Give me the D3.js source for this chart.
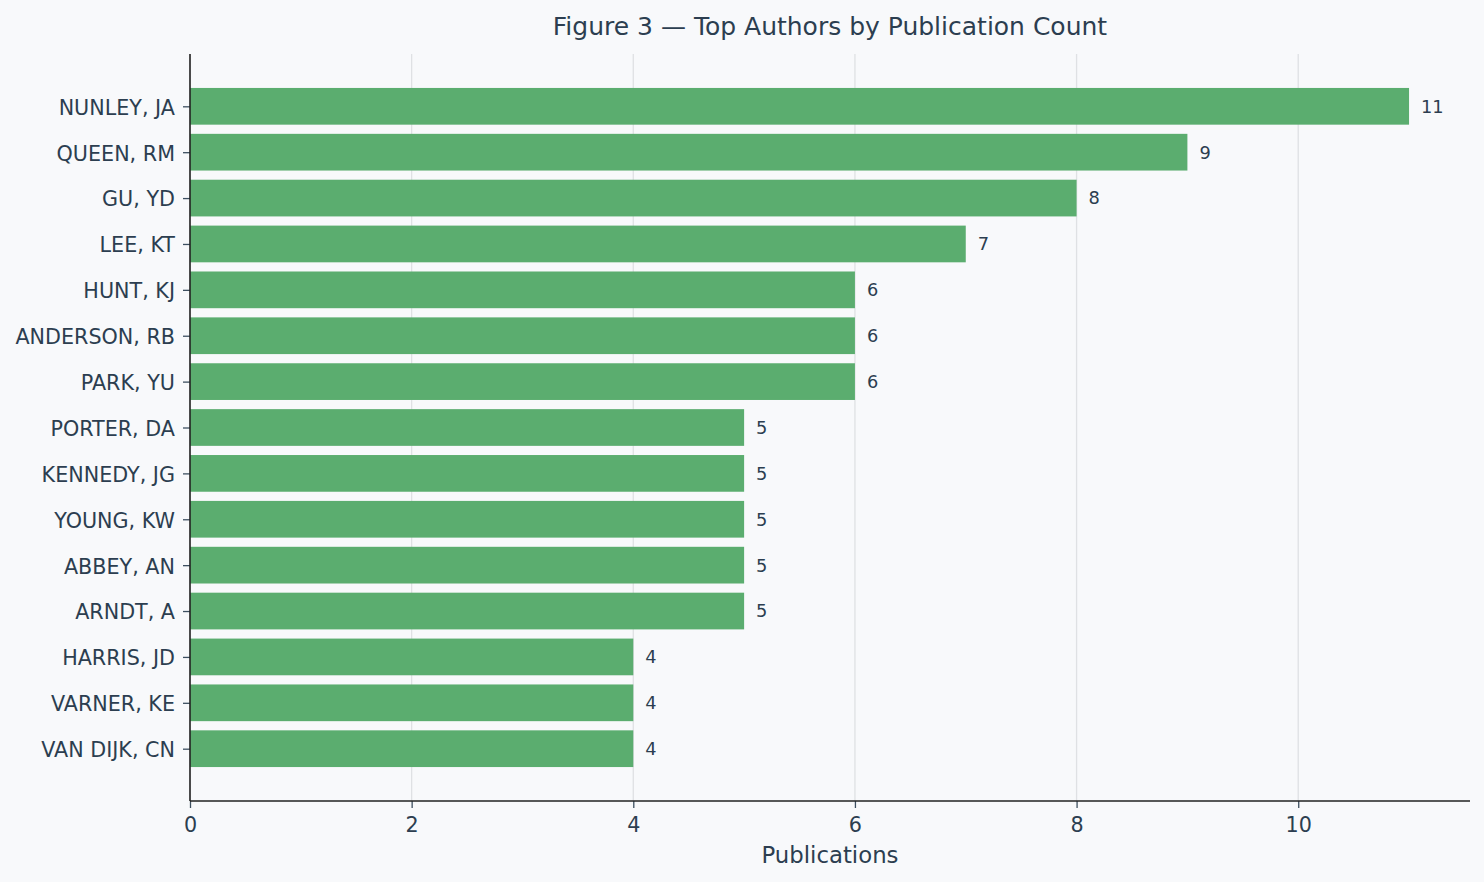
<!DOCTYPE html>
<html>
<head>
<meta charset="utf-8">
<script src="https://cdn.jsdelivr.net/npm/d3@7"></script>
<style>
  html, body { margin: 0; padding: 0; background: #f8f9fb; }
  svg { display: block; font-family: "DejaVu Sans", sans-serif; }
</style>
</head>
<body>
<svg id="chart" width="1484" height="882"></svg>
<script>
const authors = ["NUNLEY, JA", "QUEEN, RM", "GU, YD", "LEE, KT", "HUNT, KJ", "ANDERSON, RB", "PARK, YU",
  "PORTER, DA", "KENNEDY, JG", "YOUNG, KW", "ABBEY, AN", "ARNDT, A", "HARRIS, JD", "VARNER, KE", "VAN DIJK, CN"];
const publications = [11, 9, 8, 7, 6, 6, 6, 5, 5, 5, 5, 5, 4, 4, 4];
const xTicks = [0, 2, 4, 6, 8, 10];
const titleText = "Figure 3 — Top Authors by Publication Count";
const xLabelText = "Publications";

(function () {
const W = 1484, H = 882;
const mLeft = 190, mRight = 1470, mTop = 54, mBottom = 801;
const textColor = "#2c3e50";
const barColor = "#5bad6f";

const svg = d3.select("#chart");
svg.append("rect").attr("width", W).attr("height", H).attr("fill", "#f8f9fb");

const xMax = d3.max(publications) * 1.05;
const x = d3.scaleLinear().domain([0, xMax]).range([mLeft, mRight]);

// y index scale with matplotlib-like margins
const n = authors.length;
const yLo = -0.4, yHi = (n - 1) + 0.4;
const pad = (yHi - yLo) * 0.05;
const yIdx = d3.scaleLinear().domain([yLo - pad, yHi + pad]).range([mTop, mBottom]);
const barH = yIdx(0.8) - yIdx(0);

// grid
svg.append("g").selectAll("line").data(xTicks).join("line")
  .attr("x1", d => x(d)).attr("x2", d => x(d))
  .attr("y1", mTop).attr("y2", mBottom)
  .attr("stroke", "#dfe1e4").attr("stroke-width", 1.3);

// bars
svg.append("g").selectAll("rect").data(publications).join("rect")
  .attr("x", x(0))
  .attr("y", (d, i) => yIdx(i) - barH / 2)
  .attr("width", d => x(d) - x(0))
  .attr("height", barH)
  .attr("fill", barColor);

// value labels
svg.append("g").selectAll("text").data(publications).join("text")
  .attr("x", d => x(d) + 12)
  .attr("y", (d, i) => yIdx(i))
  .attr("dy", "0.36em")
  .attr("fill", textColor)
  .attr("font-size", "17.8px")
  .text(d => d);

// x axis
const xAxis = d3.axisBottom(x).tickValues(xTicks).tickSize(7).tickPadding(9).tickFormat(d3.format("d"));
const gx = svg.append("g").attr("transform", `translate(0,${mBottom})`).call(xAxis);
gx.select(".domain").remove();
gx.selectAll(".tick line").attr("stroke", "#3d4f60").attr("stroke-width", 1.3);
gx.selectAll(".tick text").attr("fill", textColor).attr("font-size", "20.7px")
  .attr("font-family", "DejaVu Sans");

// y axis
const yAxis = d3.axisLeft(yIdx).tickValues(d3.range(n)).tickSize(7).tickPadding(8)
  .tickFormat(i => authors[i]);
const gy = svg.append("g").attr("transform", `translate(${mLeft},0)`).call(yAxis);
gy.select(".domain").remove();
gy.selectAll(".tick line").attr("stroke", "#3d4f60").attr("stroke-width", 1.3);
gy.selectAll(".tick text").attr("fill", textColor).attr("font-size", "20.7px")
  .attr("font-family", "DejaVu Sans").attr("dy", "0.38em");

// spines
svg.append("line").attr("x1", mLeft).attr("x2", mLeft).attr("y1", mTop).attr("y2", mBottom)
  .attr("stroke", "#222").attr("stroke-width", 1.6);
svg.append("line").attr("x1", mLeft).attr("x2", mRight).attr("y1", mBottom).attr("y2", mBottom)
  .attr("stroke", "#222").attr("stroke-width", 1.6);

// title
svg.append("text").attr("x", (mLeft + mRight) / 2).attr("y", 35)
  .attr("text-anchor", "middle").attr("fill", textColor).attr("font-size", "25px")
  .text(titleText);

// x label
svg.append("text").attr("x", (mLeft + mRight) / 2).attr("y", 863)
  .attr("text-anchor", "middle").attr("fill", textColor).attr("font-size", "22.8px")
  .text(xLabelText);
})();
</script>
</body>
</html>
